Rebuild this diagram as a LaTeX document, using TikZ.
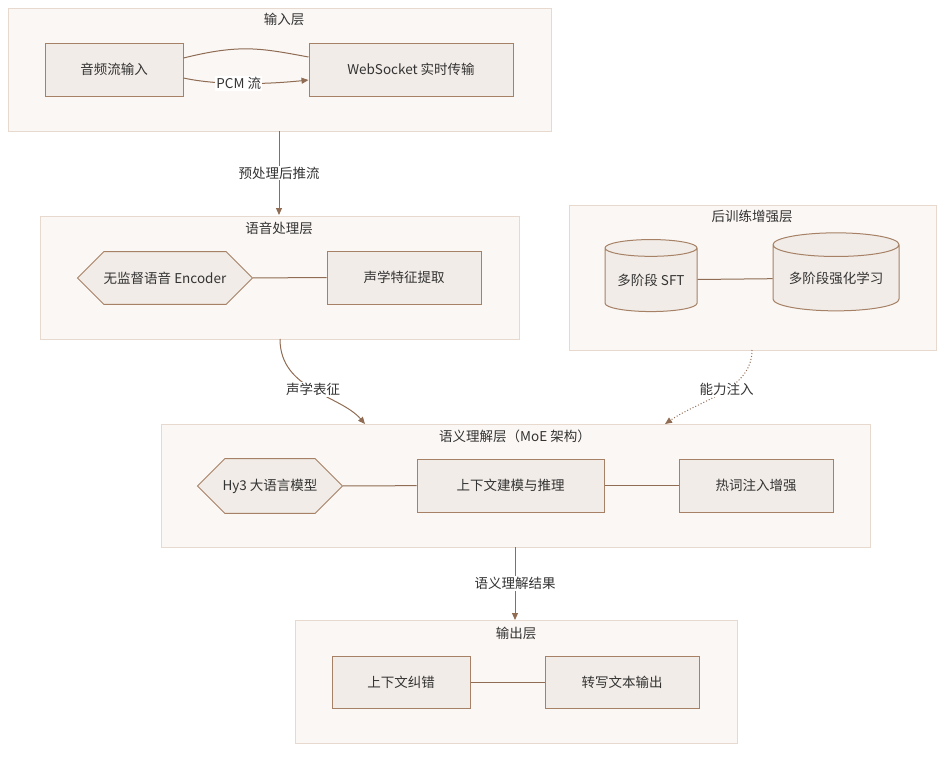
\documentclass[tikz,border=0pt]{standalone}
\usepackage{fontspec}
\setmainfont{Noto Sans CJK SC}
\usetikzlibrary{shapes.geometric,shapes.misc,arrows.meta}
\definecolor{layerfill}{HTML}{FBF7F4}
\definecolor{layerdraw}{HTML}{E8D9CE}
\definecolor{nodefill}{HTML}{F1ECE7}
\definecolor{nodedraw}{HTML}{A68166}
\definecolor{edge}{HTML}{8F6C53}
\definecolor{txt}{HTML}{333333}
\begin{document}
\begin{tikzpicture}[x=1pt,y=-1pt,
  every node/.style={font=\fontsize{13.5}{16}\selectfont,text=txt},
  layer/.style={draw=layerdraw,fill=layerfill,line width=1pt},
  box/.style={draw=nodedraw,fill=nodefill,line width=1pt,rectangle},
  hexa/.style={draw=nodedraw,fill=nodefill,line width=1pt,chamfered rectangle,chamfered rectangle xsep=9pt,chamfered rectangle ysep=20pt,inner sep=0pt},
  cyl/.style={draw=nodedraw,fill=nodefill,line width=1pt,cylinder,shape border rotate=90,aspect=0.25,inner sep=0pt},
  conn/.style={draw=edge,line width=1pt},
  arr/.style={conn,-{Triangle[length=7pt,width=6pt]}},
  lbl/.style={fill=white,inner sep=1pt}]
\useasboundingbox (0,0) rectangle (952,758);
% layers
\draw[layer] (8,8) rectangle (551,131);
\node (t1) at (284,19) {输入层};
\draw[layer] (40,216) rectangle (519,339);
\node (t2) at (279,228) {语音处理层};
\draw[layer] (569,205) rectangle (936,350);
\node (t3) at (752,216) {后训练增强层};
\draw[layer] (161,424) rectangle (870,547);
\node (t4) at (515,436) {语义理解层（MoE 架构）};
\draw[layer] (295,620) rectangle (737,743);
\node (t5) at (516,633) {输出层};
% nodes
\node[box,minimum width=138,minimum height=53] (a) at (114,69.5) {音频流输入};
\node[box,minimum width=204,minimum height=53] (b) at (411,69.5) {WebSocket 实时传输};
\node[hexa,minimum width=175,minimum height=40] (c) at (165,278) {无监督语音 Encoder};
\node[box,minimum width=154,minimum height=53] (d) at (404,277.5) {声学特征提取};
\node[cyl,minimum width=92,minimum height=72] (e) at (651,280) {多阶段 SFT};
\node[cyl,minimum width=126,minimum height=78] (f) at (836,278) {多阶段强化学习};
\node[hexa,minimum width=145,minimum height=40] (g) at (270,486) {Hy3 大语言模型};
\node[box,minimum width=187,minimum height=53] (h) at (510.5,485.5) {上下文建模与推理};
\node[box,minimum width=154,minimum height=53] (i) at (756,485.5) {热词注入增强};
\node[box,minimum width=138,minimum height=52] (j) at (401,682) {上下文纠错};
\node[box,minimum width=154,minimum height=52] (k) at (622,682) {转写文本输出};
% connectors
\coordinate (l1) at (279,131); \coordinate (l2) at (279,215);
\coordinate (l3) at (280,339); \coordinate (l4) at (365,424);
\coordinate (l5) at (752,350); \coordinate (l6) at (665,424);
\coordinate (l7) at (515,547); \coordinate (l8) at (515,620);
\draw[conn] (a.east |- 0,58) .. controls (240,44) and (260,48) .. (b.west |- 0,57);
\draw[arr] (a.east |- 0,78) .. controls (220,86) and (270,84) .. (b.west |- 0,80) node[lbl,pos=0.45] {PCM 流};
\draw[arr] (l1) -- node[lbl] {预处理后推流} (l2);
\draw[conn] (c) -- (d);
\draw[conn] (e) -- (f);
\draw[arr] (l3) .. controls (280,390) and (340,395) .. node[lbl,pos=0.5] {声学表征} (l4);
\draw[arr,dotted] (l5) .. controls (752,390) and (700,400) .. node[lbl,pos=0.45] {能力注入} (l6);
\draw[conn] (g) -- (h);
\draw[conn] (h) -- (i);
\draw[arr] (l7) -- node[lbl] {语义理解结果} (l8);
\draw[conn] (j) -- (k);
\end{tikzpicture}
\end{document}
